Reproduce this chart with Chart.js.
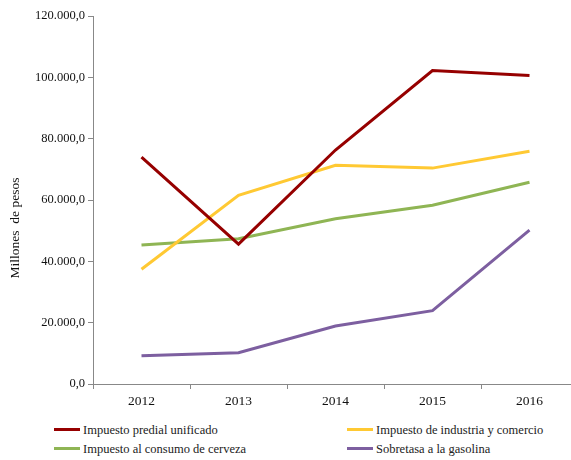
<!DOCTYPE html>
<html>
<head>
<meta charset="utf-8">
<script src="https://cdn.jsdelivr.net/npm/chart.js@4/dist/chart.umd.min.js"></script>
<style>
    html, body { margin: 0; padding: 0; background: #fff; overflow: hidden; }
    body { width: 571px; height: 460px; position: relative; }
    #wrap { position: absolute; left: 0; top: 0; width: 578px; height: 420px; }
    .legend { position: absolute; font-family: "Times New Roman", Times, "Liberation Serif", serif; font-size: 12.5px; color: #222; }
    .legend .item { position: absolute; white-space: nowrap; height: 16px; line-height: 16px; }
    .legend .swatch { position: absolute; left: 0; top: 6px; width: 26px; height: 3px; }
    .legend .label { position: absolute; left: 29px; top: 0; }
</style>
</head>
<body>
<div id="wrap"><canvas id="chart"></canvas></div>
<div class="legend" id="legend"></div>
<script>
// Data
const years = ['2012', '2013', '2014', '2015', '2016'];
const seriesNames = [
    'Impuesto predial unificado',
    'Impuesto de industria y comercio',
    'Impuesto al consumo de cerveza',
    'Sobretasa a la gasolina'
];
const predial = [74000, 45600, 76300, 102200, 100600];
const industria = [37400, 61500, 71300, 70400, 75900];
const cerveza = [45300, 47400, 53900, 58300, 65800];
const gasolina = [9200, 10200, 18900, 23900, 50200];
const colors = ['#960000', '#FFC933', '#8FB554', '#7D5FA0'];

const yTitle = 'Millones  de pesos';
const axisColor = '#888888';
const font = '"Times New Roman", Times, "Liberation Serif", serif';

function formatNum(v) {
    const parts = Math.round(v).toString().replace(/\B(?=(\d{3})+(?!\d))/g, '.');
    return parts + ',0';
}

// y axis title, placed where the reference has it
const yTitlePlugin = {
    id: 'yTitle',
    afterDraw(chart) {
        const ctx = chart.ctx;
        ctx.save();
        ctx.translate(15, 228);
        ctx.rotate(-Math.PI / 2);
        ctx.font = '13.5px ' + font;
        ctx.fillStyle = '#111';
        ctx.textAlign = 'center';
        ctx.textBaseline = 'middle';
        ctx.fillText(yTitle, 0, 0);
        ctx.restore();
    }
};

const allData = [predial, industria, cerveza, gasolina];

new Chart(document.getElementById('chart'), {
    type: 'line',
    data: {
        labels: years,
        datasets: allData.map((d, i) => ({
            label: seriesNames[i],
            data: d,
            borderColor: colors[i],
            backgroundColor: colors[i],
            borderWidth: 3,
            pointRadius: 0,
            tension: 0
        }))
    },
    options: {
        responsive: true,
        maintainAspectRatio: false,
        animation: false,
        layout: { padding: { top: 16, left: 0, right: 0, bottom: 0 } },
        plugins: {
            legend: { display: false },
            tooltip: { enabled: false }
        },
        scales: {
            x: {
                offset: true,
                grid: { offset: true, drawOnChartArea: false, drawTicks: true, tickLength: 5, color: axisColor },
                border: { color: axisColor, width: 1 },
                ticks: { color: '#111', font: { family: font, size: 13.5 }, padding: 4, maxRotation: 0 },
                afterFit(scale) { scale.height = 36; }
            },
            y: {
                min: 0,
                max: 120000,
                grid: { drawOnChartArea: false, drawTicks: true, tickLength: 5, color: axisColor },
                border: { color: axisColor, width: 1 },
                ticks: {
                    stepSize: 20000,
                    color: '#111',
                    font: { family: font, size: 12.5 },
                    padding: 3,
                    callback: v => formatNum(v)
                },
                afterFit(scale) { scale.width = 93; }
            }
        }
    },
    plugins: [yTitlePlugin]
});

// Legend in two columns, as in the reference
const legend = document.getElementById('legend');
const legendPos = [[54, 422], [347, 422], [54, 441], [347, 441]];
seriesNames.forEach((name, i) => {
    const item = document.createElement('div');
    item.className = 'item';
    item.style.left = legendPos[i][0] + 'px';
    item.style.top = legendPos[i][1] + 'px';
    item.innerHTML = '<span class="swatch" style="background:' + colors[i] + '"></span><span class="label"></span>';
    item.querySelector('.label').textContent = name;
    legend.appendChild(item);
});
</script>
</body>
</html>
